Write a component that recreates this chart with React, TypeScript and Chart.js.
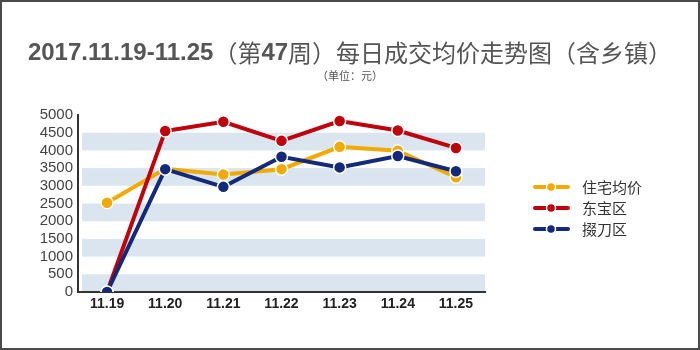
import React, { useEffect, useRef } from "react";
import { Chart, registerables } from "chart.js";

Chart.register(...registerables);

const categories = ["11.19", "11.20", "11.21", "11.22", "11.23", "11.24", "11.25"];
const seriesNames = ["住宅均价", "东宝区", "掇刀区"];
const residentialAvg = [2520, 3480, 3320, 3470, 4100, 3990, 3240];
const dongbao = [0, 4550, 4810, 4270, 4830, 4560, 4070];
const duodao = [0, 3470, 2970, 3820, 3520, 3840, 3410];
const yTicks = [0, 500, 1000, 1500, 2000, 2500, 3000, 3500, 4000, 4500, 5000];
const seriesColors = ["#f2aa00", "#c0000a", "#132a7c"];

const titleParts: [string, boolean][] = [
  ["2017.11.19-11.25", true],
  ["（第", false],
  ["47", true],
  ["周）每日成交均价走势图（含乡镇）", false],
];
const subtitleText = "（单位：元）";

const frameTextPlugin = {
  id: "frameText",
  beforeDraw(chart: any) {
    const ctx = chart.ctx;
    const w = chart.width;
    const h = chart.height;
    ctx.save();
    ctx.fillStyle = "#ffffff";
    ctx.fillRect(0, 0, w, h);
    ctx.strokeStyle = "#4a4a4a";
    ctx.lineWidth = 2;
    ctx.strokeRect(1, 1, w - 2, h - 2);
    // bands
    const ya = chart.scales.y;
    const area = chart.chartArea;
    ctx.fillStyle = "#dae5f0";
    for (let i = 0; i + 1 < yTicks.length; i += 2) {
      const y0 = ya.getPixelForValue(yTicks[i]);
      const y1 = ya.getPixelForValue(yTicks[i + 1]);
      ctx.fillRect(area.left + 4, y1, area.right - area.left - 4, y0 - y1);
    }
    // title
    const boldFont = "bold 24px 'Liberation Sans', Arial, sans-serif";
    const normFont = "24px 'Noto Sans CJK SC', sans-serif";
    let total = 0;
    const widths: number[] = [];
    titleParts.forEach(([t, b]) => {
      ctx.font = b ? boldFont : normFont;
      const m = ctx.measureText(t).width;
      widths.push(m);
      total += m;
    });
    let x = w / 2 - total / 2;
    ctx.fillStyle = "#555555";
    ctx.textBaseline = "middle";
    ctx.textAlign = "left";
    titleParts.forEach(([t, b], i) => {
      ctx.font = b ? boldFont : normFont;
      ctx.fillText(t, x, 53);
      x += widths[i];
    });
    ctx.font = "11px 'Noto Sans CJK SC', sans-serif";
    ctx.textAlign = "center";
    ctx.fillStyle = "#555555";
    ctx.fillText(subtitleText, w / 2, 76);
    ctx.restore();
  },
  afterDraw(chart: any) {
    const ctx = chart.ctx;
    ctx.save();
    const ys = [187, 208, 229];
    chart.data.datasets.forEach((ds: any, i: number) => {
      const y = ys[i];
      ctx.strokeStyle = ds.borderColor;
      ctx.lineWidth = 4;
      ctx.lineCap = "round";
      ctx.beginPath();
      ctx.moveTo(535, y);
      ctx.lineTo(568, y);
      ctx.stroke();
      ctx.fillStyle = ds.borderColor;
      ctx.strokeStyle = "#ffffff";
      ctx.lineWidth = 1.5;
      ctx.beginPath();
      ctx.arc(551, y, 4.5, 0, Math.PI * 2);
      ctx.fill();
      ctx.stroke();
      ctx.fillStyle = "#333333";
      ctx.font = "15px 'Noto Sans CJK SC', sans-serif";
      ctx.textAlign = "left";
      ctx.textBaseline = "middle";
      ctx.fillText(ds.label, 582, y);
    });
    ctx.restore();
  },
};

export default function App() {
  const ref = useRef<HTMLCanvasElement>(null);
  useEffect(() => {
    document.body.style.margin = "0";
    const values = [residentialAvg, dongbao, duodao];
    const chart = new Chart(ref.current!, {
      type: "line",
      data: {
        labels: categories,
        datasets: values.map((v, i) => ({
          label: seriesNames[i],
          data: v,
          order: 2 - i,
          borderColor: seriesColors[i],
          backgroundColor: seriesColors[i],
          pointBackgroundColor: seriesColors[i],
          pointBorderColor: "#ffffff",
          pointBorderWidth: 1.5,
          pointRadius: 6,
          borderWidth: 4,
          tension: 0,
        })),
      },
      options: {
        responsive: false,
        animation: false,
        layout: { padding: { left: 0, right: 215, top: 115, bottom: 0 } },
        plugins: {
          legend: { display: false },
          title: { display: false },
          tooltip: { enabled: false },
        },
        scales: {
          x: {
            offset: true,
            grid: { display: false, drawTicks: false },
            border: { display: true, color: "#333333", width: 2 },
            ticks: {
              color: "#222222",
              font: { family: "'Liberation Sans', Arial, sans-serif", size: 14, weight: "bold" },
              padding: 4,
              maxRotation: 0,
            },
            afterFit(scale: any) {
              scale.height = 58;
            },
          },
          y: {
            min: 0,
            max: 5000,
            grid: { display: false, drawTicks: true, tickLength: 3, tickColor: "#333333" },
            border: { display: true, color: "#333333", width: 2 },
            ticks: {
              stepSize: 500,
              autoSkip: false,
              color: "#444444",
              font: { family: "'Liberation Sans Narrow', 'Liberation Sans', Arial, sans-serif", size: 15 },
              padding: 2,
              callback: (v: any) => String(v),
            },
            afterBuildTicks(scale: any) {
              scale.ticks = yTicks.map((v) => ({ value: v }));
            },
            afterFit(scale: any) {
              scale.width = 78;
            },
          },
        },
      },
      plugins: [frameTextPlugin],
    });
    return () => chart.destroy();
  }, []);
  return <canvas ref={ref} width={700} height={350} style={{ display: "block" }} />;
}
